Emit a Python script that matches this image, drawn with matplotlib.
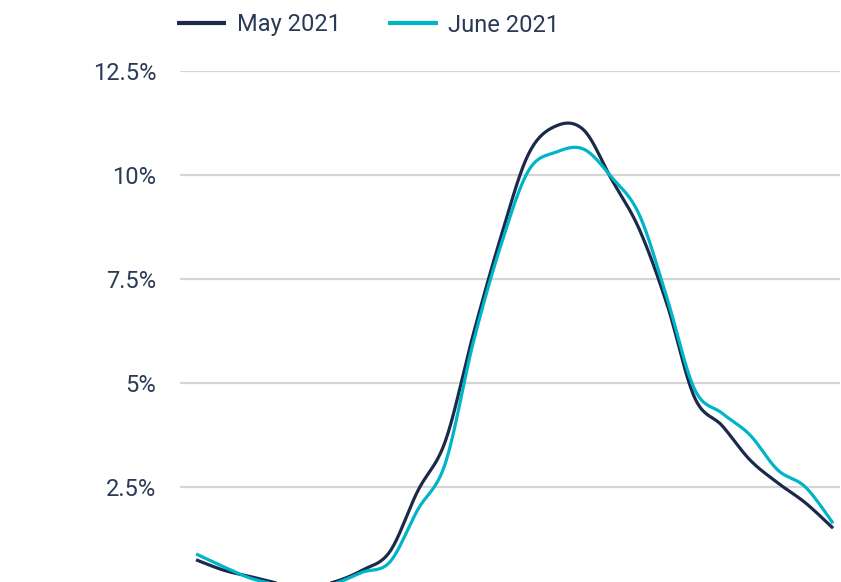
import numpy as np
import matplotlib.pyplot as plt

hours = list(range(24))
may_2021 = [0.75, 0.5, 0.34, 0.18, 0.1, 0.22, 0.5, 0.95, 2.4, 3.6, 6.15, 8.5,
            10.5, 11.18, 11.08, 9.9, 8.7, 6.9, 4.65, 3.97, 3.15, 2.6, 2.12, 1.51]
june_2021 = [0.89, 0.58, 0.3, 0.15, 0.08, 0.18, 0.45, 0.7, 1.95, 3.07, 5.95, 8.3,
             10.1, 10.55, 10.62, 9.95, 9.05, 7.05, 4.85, 4.27, 3.75, 2.91, 2.5, 1.63]
y_ticks = [0, 2.5, 5, 7.5, 10, 12.5]
y_labels = ['0%', '2.5%', '5%', '7.5%', '10%', '12.5%']


def smooth(x, y, n=20):
    # catmull-rom curve through the points, just for drawing
    x = np.asarray(x, float)
    y = np.asarray(y, float)
    px = np.concatenate([[x[0]], x, [x[-1]]])
    py = np.concatenate([[y[0]], y, [y[-1]]])
    t = np.linspace(0, 1, n, endpoint=False)
    xs, ys = [], []
    for i in range(1, len(px) - 2):
        for p, out in ((px, xs), (py, ys)):
            p0, p1, p2, p3 = p[i - 1], p[i], p[i + 1], p[i + 2]
            out.extend(0.5 * (2 * p1 + (-p0 + p2) * t
                              + (2 * p0 - 5 * p1 + 4 * p2 - p3) * t ** 2
                              + (-p0 + 3 * p1 - 3 * p2 + p3) * t ** 3))
    xs.append(x[-1])
    ys.append(y[-1])
    return xs, ys


plt.rcParams['font.family'] = ['Roboto', 'DejaVu Sans']

fig = plt.figure(figsize=(8.41, 5.82), dpi=100)
ax = fig.add_axes([180 / 841, -9 / 582, 660 / 841, 520 / 582])

ax.plot(*smooth(hours, may_2021), color='#1b2a4a', linewidth=2.3, label='May 2021',
        solid_capstyle='butt', zorder=3)
ax.plot(*smooth(hours, june_2021), color='#00b5c8', linewidth=2.3, label='June 2021',
        solid_capstyle='butt', zorder=3)

ax.set_xlim(-0.58, 23.25)
ax.set_ylim(0, 12.5)
ax.set_yticks(y_ticks)
ax.set_yticklabels(y_labels)
ax.set_xticks([])
ax.tick_params(axis='y', length=0, pad=17, labelsize=17, labelcolor='#2b3a55')
ax.grid(axis='y', color='#d5d5d5', linewidth=1.6)
ax.set_axisbelow(True)
for s in ax.spines.values():
    s.set_visible(False)

leg = fig.legend(loc='center', bbox_to_anchor=(368 / 841, 1 - 25 / 582), ncol=2,
                 frameon=False, fontsize=17, handlelength=2.1, handletextpad=0.45,
                 columnspacing=2.0)
for line in leg.get_lines():
    line.set_linewidth(3)
for text in leg.get_texts():
    text.set_color('#2b3a55')

fig.savefig('out.png', dpi=100)
